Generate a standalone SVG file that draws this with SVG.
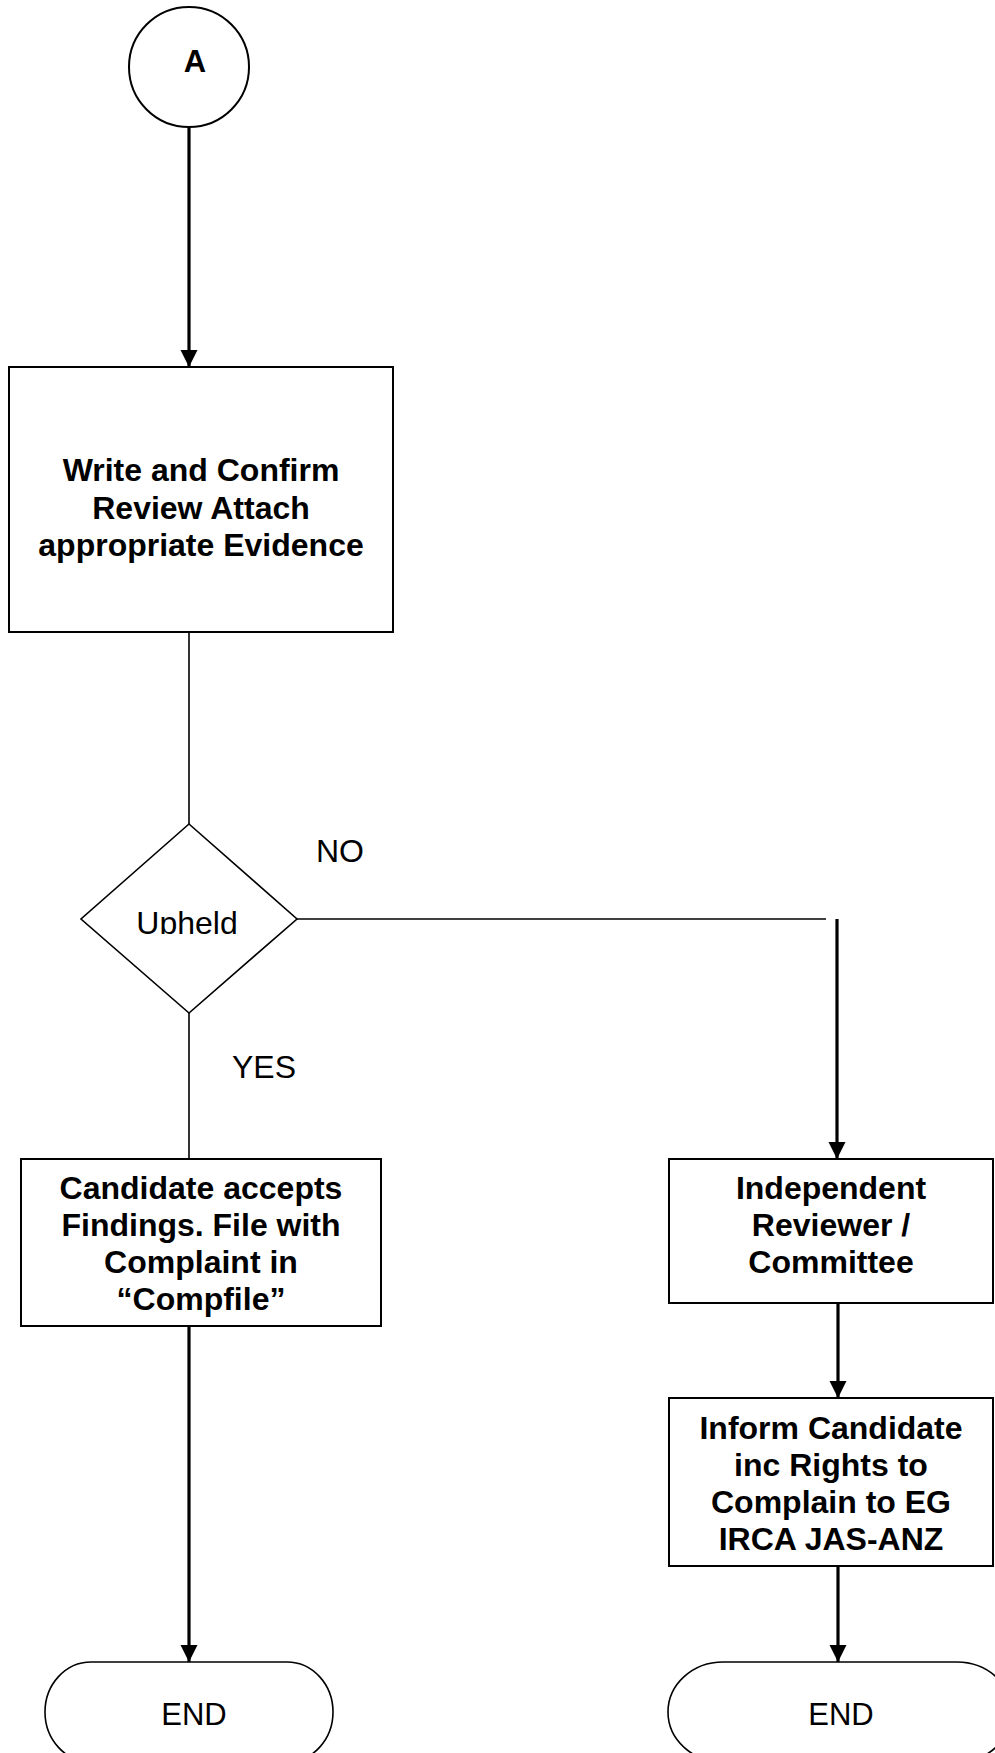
<svg xmlns="http://www.w3.org/2000/svg" width="995" height="1753" viewBox="0 0 995 1753">
<style>
.box{fill:#fff;stroke:#000;stroke-width:2}
.bt{font-family:"Liberation Sans",Arial,sans-serif;font-weight:bold;font-size:32px;text-anchor:middle;fill:#000}
.rt{font-family:"Liberation Sans",Arial,sans-serif;font-size:32px;fill:#000}
.thick{stroke:#000;stroke-width:3.2;fill:none}
.thin{stroke:#000;stroke-width:1.6;fill:none}
</style>
<defs>
<marker id="ah" markerUnits="userSpaceOnUse" markerWidth="18" markerHeight="18" refX="17" refY="8.5" orient="auto">
<path d="M0,0 L17,8.5 L0,17 z" fill="#000"/>
</marker>
<clipPath id="upclip"><rect x="100" y="880" width="180" height="54"/></clipPath>
</defs>
<g id="connectors">
<line class="thick" x1="189" y1="128" x2="189" y2="367" marker-end="url(#ah)"/>
<line class="thin" x1="189" y1="632" x2="189" y2="824"/>
<line class="thin" x1="297" y1="919" x2="826" y2="919"/>
<line class="thick" x1="837" y1="919" x2="837" y2="1159" marker-end="url(#ah)"/>
<line class="thin" x1="189" y1="1013" x2="189" y2="1159"/>
<line class="thick" x1="189" y1="1326" x2="189" y2="1662" marker-end="url(#ah)"/>
<line class="thick" x1="838" y1="1303" x2="838" y2="1398" marker-end="url(#ah)"/>
<line class="thick" x1="838" y1="1566" x2="838" y2="1662" marker-end="url(#ah)"/>
<text class="rt" x="316" y="862">NO</text>
<text class="rt" x="232" y="1078">YES</text>
</g>
<g id="start-a">
<circle cx="189" cy="67" r="60" fill="#fff" stroke="#000" stroke-width="2"/>
<text class="bt" x="195" y="72" style="font-size:31px">A</text>
</g>
<g id="write-confirm">
<rect class="box" x="9" y="367" width="384" height="265"/>
<text class="bt" x="201" y="481">Write and Confirm</text>
<text class="bt" x="201" y="518.5">Review Attach</text>
<text class="bt" x="201" y="556">appropriate Evidence</text>
</g>
<g id="upheld">
<polygon points="189,824 297,919 189,1013 81,919" fill="#fff" stroke="#000" stroke-width="1.6"/>
<text class="rt" x="187" y="934" text-anchor="middle" clip-path="url(#upclip)">Upheld</text>
</g>
<g id="candidate-accepts">
<rect class="box" x="21" y="1159" width="360" height="167"/>
<text class="bt" x="201" y="1199">Candidate accepts</text>
<text class="bt" x="201" y="1236">Findings. File with</text>
<text class="bt" x="201" y="1273">Complaint in</text>
<text class="bt" x="201" y="1310">“Compfile”</text>
</g>
<g id="independent-reviewer">
<rect class="box" x="669" y="1159" width="324" height="144"/>
<text class="bt" x="831" y="1199">Independent</text>
<text class="bt" x="831" y="1236">Reviewer /</text>
<text class="bt" x="831" y="1273">Committee</text>
</g>
<g id="inform-candidate">
<rect class="box" x="669" y="1398" width="324" height="168"/>
<text class="bt" x="831" y="1439">Inform Candidate</text>
<text class="bt" x="831" y="1476">inc Rights to</text>
<text class="bt" x="831" y="1513">Complain to EG</text>
<text class="bt" x="831" y="1550">IRCA JAS-ANZ</text>
</g>
<g id="end-left">
<rect x="45" y="1662" width="288" height="100" rx="46" ry="50" fill="#fff" stroke="#000" stroke-width="1.6"/>
<text class="rt" x="194" y="1725" text-anchor="middle" style="font-size:31px">END</text>
</g>
<g id="end-right">
<rect x="668" y="1662" width="344" height="100" rx="55" ry="50" fill="#fff" stroke="#000" stroke-width="1.6"/>
<text class="rt" x="841" y="1725" text-anchor="middle" style="font-size:31px">END</text>
</g>
</svg>
